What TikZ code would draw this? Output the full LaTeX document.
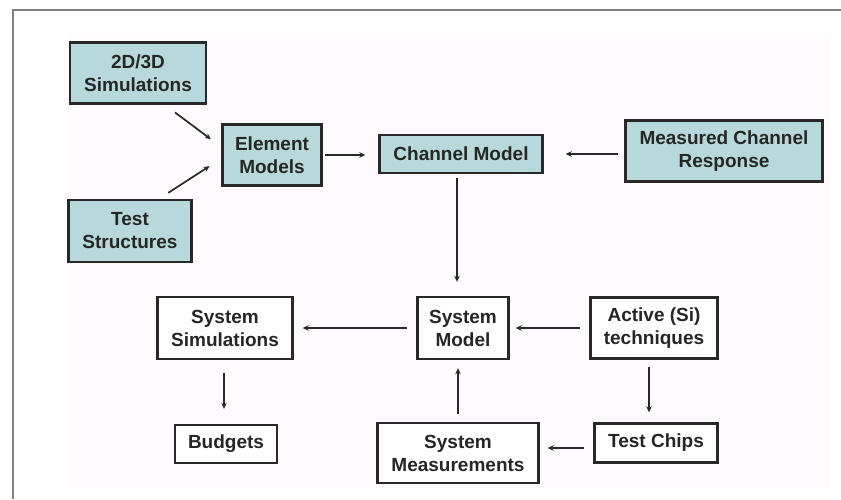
\documentclass[tikz,border=0pt]{standalone}
\usepackage{fontspec}
\setmainfont{Liberation Sans}
\usepackage{tikz}
\usetikzlibrary{arrows.meta}
\usepackage{xcolor}
\definecolor{bleuclair}{RGB}{184,217,219}
\definecolor{fondrose}{RGB}{254,250,253}
\definecolor{trait}{RGB}{40,40,40}
\tikzset{
    boite/.style={draw=trait, line width=2.4pt, fill=white, align=center, inner sep=0pt, text=black!85, font=\fontsize{19}{23}\selectfont\bfseries},
    boite bleue/.style={boite, fill=bleuclair},
    fleche/.style={-{Stealth[length=6pt, width=5.5pt]}, line width=1.7pt, trait},
    cadre/.style={line width=2pt, gray},
}

\begin{document}
\begin{tikzpicture}[x=1pt, y=-1pt]
\useasboundingbox (0,0) rectangle (841,499);
% Cadre et fond
\draw[cadre] (841,10) -- (13,10) -- (13,499);
\fill[fondrose] (68,34) rectangle (830,488);

% Boîtes bleues (modélisation)
\node[boite bleue, minimum width=136pt, minimum height=61pt] (sim) at (138,73) {2D/3D\\Simulations};
\node[boite bleue, minimum width=123pt, minimum height=62pt] (test) at (130,231) {Test\\Structures};
\node[boite bleue, minimum width=99pt, minimum height=61pt] (elem) at (272,155) {Element\\Models};
\node[boite bleue, minimum width=163pt, minimum height=38pt] (chan) at (461,154) {Channel Model};
\node[boite bleue, minimum width=197pt, minimum height=61pt] (meas) at (724,151) {Measured Channel\\Response};

% Boîtes blanches (système)
\node[boite, minimum width=135pt, minimum height=62pt] (syssim) at (225,328) {System\\Simulations};
\node[boite, minimum width=102pt, minimum height=38pt] (budg) at (226,444) {Budgets};
\node[boite, minimum width=91pt, minimum height=62pt] (sysmod) at (463,328) {System\\Model};
\node[boite, minimum width=127pt, minimum height=61pt] (active) at (654,328) {Active (Si)\\techniques};
\node[boite, minimum width=123pt, minimum height=39pt] (chips) at (656,443) {Test Chips};
\node[boite, minimum width=161pt, minimum height=60pt] (sysmeas) at (458,453) {System\\Measurements};

% Flèches
\draw[fleche, shorten <=13pt, shorten >=13pt] (sim.310) -- (elem.171);
\draw[fleche, shorten <=11pt, shorten >=14pt] (test.48) -- (elem.184);
\draw[fleche, shorten <=2pt, shorten >=13pt] (elem.east) -- (elem.east -| chan.west);
\draw[fleche, shorten <=6pt, shorten >=22pt] (meas.west |- chan.east) -- (chan.east);
\draw[fleche, shorten <=4pt, shorten >=14pt] ([xshift=-4pt]chan.south) -- ([xshift=-4pt]chan.south |- sysmod.north);
\draw[fleche, shorten <=9pt, shorten >=9pt] (sysmod.west) -- (syssim.east);
\draw[fleche, shorten <=9pt, shorten >=6pt] (active.west) -- (sysmod.east);
\draw[fleche, shorten <=7pt, shorten >=10pt] ([xshift=-5pt]active.south) -- ([xshift=-5pt]active.south |- chips.north);
\draw[fleche, shorten <=9pt, shorten >=8pt] ([yshift=-5pt]chips.west) -- ([yshift=-5pt]chips.west -| sysmeas.east);
\draw[fleche, shorten <=8pt, shorten >=8pt] (sysmeas.north) -- (sysmeas.north |- sysmod.south);
\draw[fleche, shorten <=13pt, shorten >=15pt] ([xshift=-1pt]syssim.south) -- ([xshift=-1pt]syssim.south |- budg.north);
\end{tikzpicture}
\end{document}
